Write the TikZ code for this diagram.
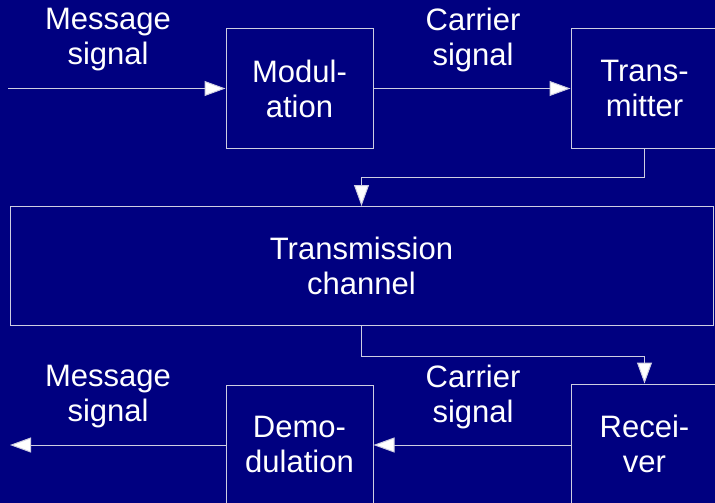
\documentclass[tikz,border=0pt]{standalone}
\usepackage{fontspec}
\setmainfont{Liberation Sans}
\usetikzlibrary{arrows.meta}
\definecolor{bgnavy}{RGB}{0,0,128}
\definecolor{linegray}{RGB}{205,205,225}
\tikzset{
  blk/.style={draw=linegray, line width=1pt, inner sep=0pt, minimum width=147pt, minimum height=119pt, text=white, align=center, font=\fontsize{31}{35}\selectfont},
  lbl/.style={inner sep=0pt, text=white, align=center, font=\fontsize{31}{35}\selectfont},
  arr/.style={draw=linegray, line width=1pt, -{Triangle[length=21pt,width=15pt,fill=white]}},
  ln/.style={draw=linegray, line width=1pt}
}
\begin{document}
\begin{tikzpicture}[x=1pt,y=-1pt]
\fill[bgnavy] (0,0) rectangle (715,503);
\useasboundingbox (0,0) rectangle (715,503);
\clip (0,0) rectangle (715,503);
\node[blk] (mod) at (299.5,88.5) {Modul-\\ation};
\node[blk] (tx) at (644.5,88.5) {Trans-\\mitter};
\node[blk, minimum width=703pt] (ch) at (361.5,266) {Transmission\\channel};
\node[blk] (rx) at (644.5,443.5) {Recei-\\ver};
\node[blk] (dem) at (299.5,444.5) {Demo-\\dulation};
\coordinate (in) at (8,88.5);
\coordinate (out) at (10,445);
\node[lbl] (l1) at (108,40) {Message\\signal};
\node[lbl] (l2) at (473,40) {Carrier\\signal};
\node[lbl] (l3) at (108,397) {Message\\signal};
\node[lbl] (l4) at (473,397) {Carrier\\signal};
\draw[arr] (in) -- (mod.west);
\draw[arr] (mod.east) -- (tx.west);
\draw[arr] (tx.south) -- ++(0,29) -| (ch.north);
\draw[arr] (ch.south) -- ++(0,30) -| (rx.north);
\draw[arr] (rx.west |- 0,445) -- (dem.east |- 0,445);
\draw[arr] (dem.west |- out) -- (out);
\end{tikzpicture}
\end{document}
